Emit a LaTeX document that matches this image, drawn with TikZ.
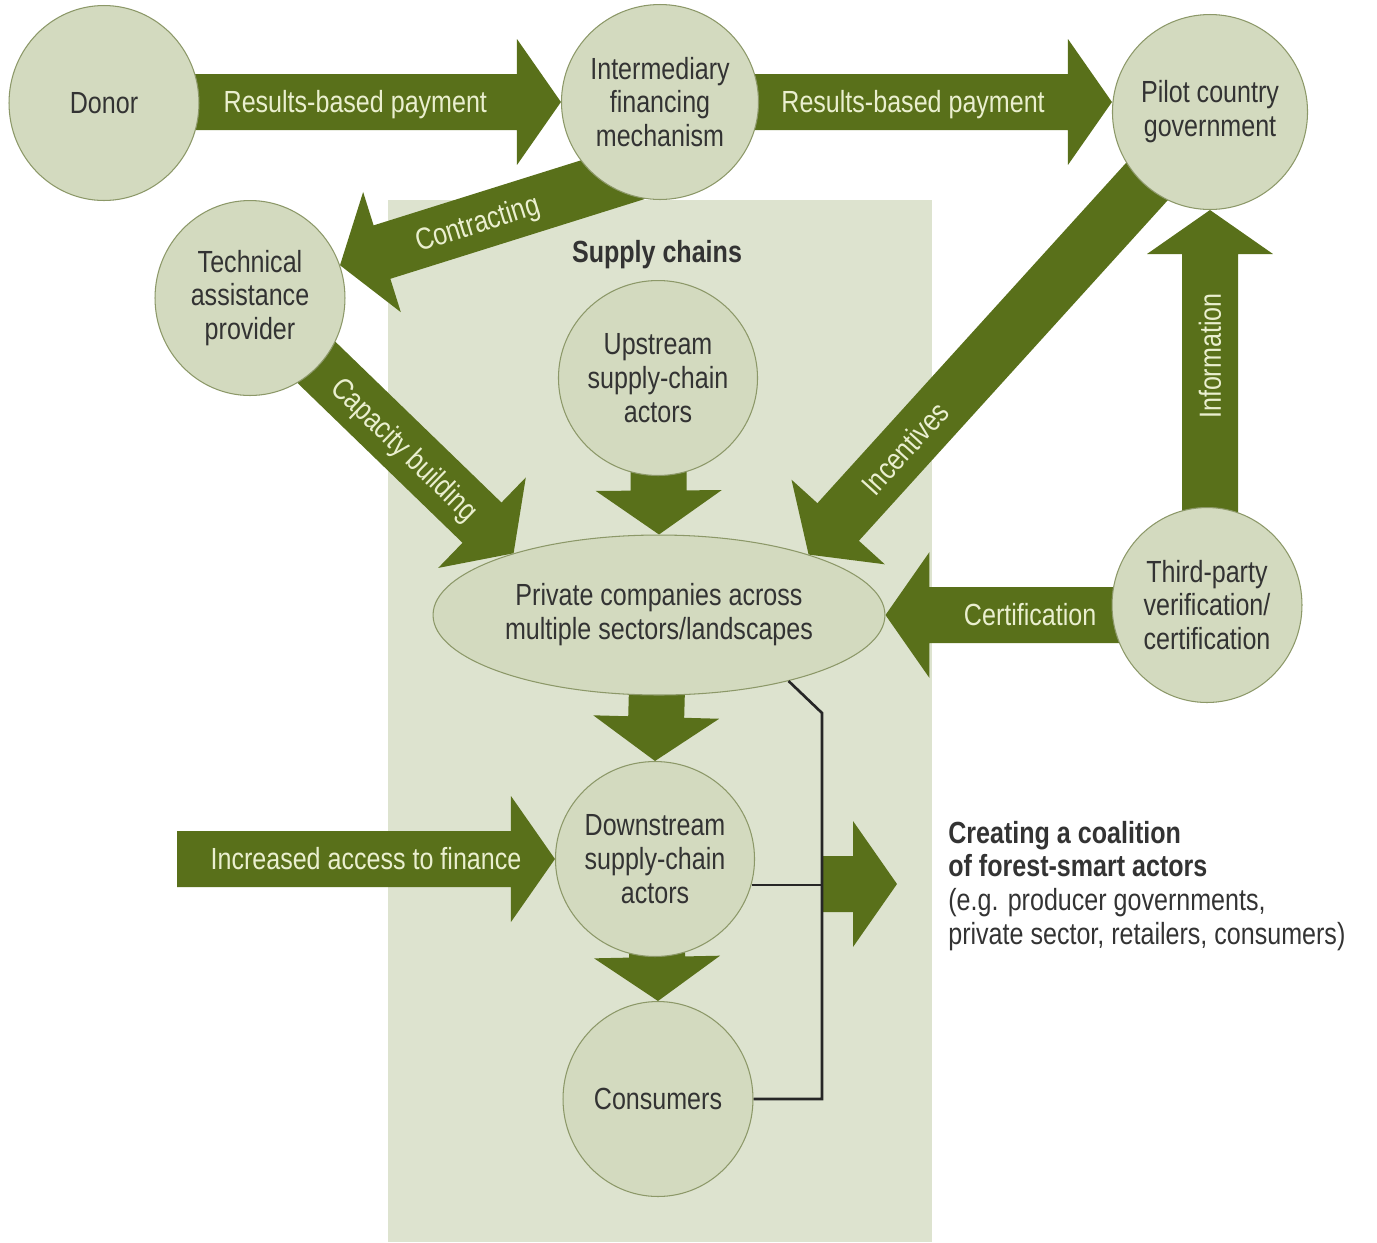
\documentclass[tikz,border=0pt]{standalone}
\usepackage{fontspec}
\setmainfont{Liberation Sans}[FakeStretch=0.82]
\usetikzlibrary{shapes.geometric,calc}

\definecolor{flowgreen}{HTML}{59701A}
\definecolor{nodefill}{HTML}{D3DABF}
\definecolor{nodeline}{HTML}{8C9868}
\definecolor{bgfill}{HTML}{DDE3CF}
\definecolor{labeltext}{HTML}{EAEFCF}
\definecolor{nodetext}{HTML}{333333}

\pgfdeclarelayer{back}
\pgfdeclarelayer{flows}
\pgfsetlayers{back,flows,main}

\newcommand{\figfont}{\fontsize{17.4pt}{19.3pt}\selectfont}

\begin{document}
\begin{tikzpicture}[x=0.02cm, y=-0.02cm,
        actor/.style={ellipse, draw=nodeline, line width=0.6pt, fill=nodefill, minimum width=3.8cm, minimum height=3.9cm, inner sep=0pt, align=center, text=nodetext, font=\figfont},
        flowlabel/.style={text=labeltext, font=\figfont, sloped, inner sep=0pt, text height=12.4pt, text depth=0pt},
        bracket/.style={draw=black!85, line width=1.5pt}]
        \def\sw{0.56cm}
        \def\hw{1.26cm}
        \def\hlen{0.88cm}
        \def\flow#1#2{%
            \coordinate (fh) at ($(#2)!\hlen!(#1)$);
            \fill[flowgreen] ($(#1)!\sw!90:(#2)$) -- ($(fh)!\sw!90:(#2)$) -- ($(fh)!\hw!90:(#2)$) -- (#2)
                -- ($(fh)!\hw!-90:(#2)$) -- ($(fh)!\sw!-90:(#2)$) -- ($(#1)!\sw!-90:(#2)$) -- cycle;}

        \useasboundingbox (0,0) rectangle (1377,1242);
        \begin{pgfonlayer}{back}
            \fill[bgfill] (388,200) rectangle (932,1242);
        \end{pgfonlayer}

        \node[actor] (donor) at (104,103) {Donor};
        \node[actor] (inter) at (660,102) {Intermediary\\financing\\mechanism};
        \node[actor] (pilot) at (1210,112) {Pilot country\\government};
        \node[actor] (tech) at (250,298) {Technical\\assistance\\provider};
        \node[actor] (up) at (658,378) {Upstream\\supply-chain\\actors};
        \node[actor, minimum width=9.04cm, minimum height=3.2cm] (priv) at (659,615) {Private companies across\\multiple sectors/landscapes};
        \node[actor] (down) at (655,859) {Downstream\\supply-chain\\actors};
        \node[actor] (cons) at (658,1099) {Consumers};
        \node[actor] (third) at (1207,605) {Third-party\\verification/\\certification};
        \node[font=\figfont\bfseries, text=nodetext] (chains) at (657,255) {Supply chains};
        \node[font=\figfont, text=nodetext, align=left, anchor=west, inner sep=0pt] (coalition) at (948,886) {\textbf{Creating a coalition}\\\textbf{of forest-smart actors}\\(e.g. producer governments,\\private sector, retailers, consumers)};

        \coordinate (fin) at (177,859);
        \coordinate (jn) at (822,884);
        \coordinate (bend) at (822,713);
        \coordinate (coal) at (897,884);
        \coordinate (s1) at (donor.center |- inter.west);
        \coordinate (t2) at (pilot.west |- inter.center);
        \coordinate (s3) at ($(inter.235)!-1cm!(tech.20)$);
        \coordinate (s7) at (pilot.south |- third.center);
        \coordinate (s8) at (third.center |- priv.east);

        \begin{pgfonlayer}{flows}
            \flow{s1}{inter.west}
            \flow{inter.center}{t2}
            \flow{s3}{tech.20}
            \flow{tech.center}{priv.157}
            \flow{up.center}{priv.north}
            \flow{pilot.center}{priv.22}
            \flow{s7}{pilot.south}
            \flow{s8}{priv.east}
            \flow{priv.center}{down.north}
            \flow{down.center}{cons.north}
            \flow{fin}{down.west}
            \flow{jn}{coal}
        \end{pgfonlayer}

        \path (s1) -- (inter.west) node[flowlabel, pos=.55] {Results-based payment};
        \path (inter.center) -- (t2) node[flowlabel, pos=.56] {Results-based payment};
        \path (s3) -- (tech.20) node[flowlabel, pos=.56] {Contracting};
        \path (tech.center) -- (priv.157) node[flowlabel, pos=.59] {Capacity building};
        \path (pilot.center) -- (priv.22) node[flowlabel, pos=.76] {Incentives};
        \path (s7) -- (pilot.south) node[flowlabel, pos=.63] {Information};
        \path (s8) -- (priv.east) node[flowlabel, pos=.55] {Certification};
        \path (fin) -- (down.west) node[flowlabel, pos=.5] {Increased access to finance};

        \draw[bracket] (priv.-27) -- (bend) -- (jn |- cons.east) -- (cons.east);
        \draw[bracket] (down.-15) -- (down.-15 -| jn);
    \end{tikzpicture}
\end{document}
